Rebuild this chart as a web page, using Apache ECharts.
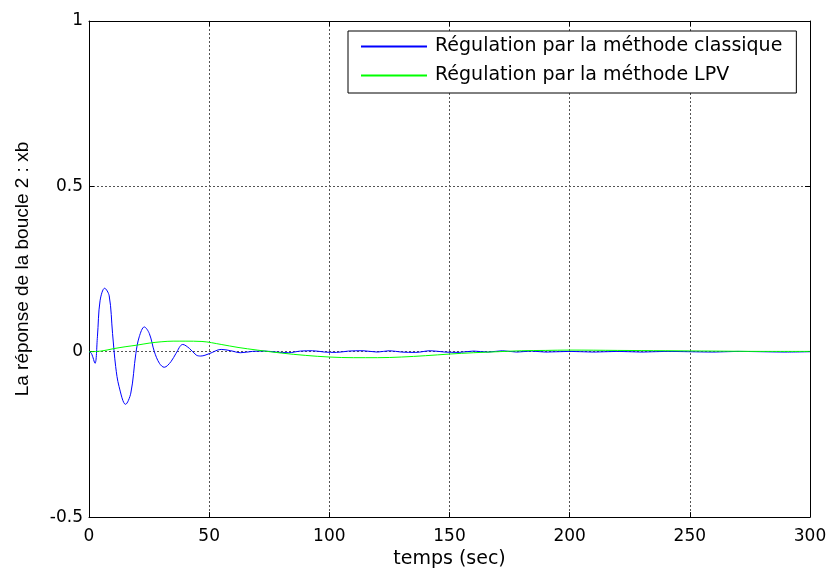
<!DOCTYPE html>
<html>
<head>
<meta charset="utf-8">
<script src="https://cdn.jsdelivr.net/npm/echarts@6/dist/echarts.min.js"></script>
<style>
  html, body { margin: 0; padding: 0; background: #fff; }
  #chart { width: 831px; height: 574px; }
</style>
</head>
<body>
<div id="chart"></div>
<script>
// temps (sec) / reponse
var blueT = [0,1,2.5,3.5,4.6,6.5,8.4,9.8,11.1,12.5,15.2,17.4,19.5,20.9,23,25.1,27.2,29.3,31.3,34.1,
  36.2,39,41.8,44.6,46.5,50,55,59,63,68,73,78,83,88,93,98,103,108,114,120,
  125,130,136,142,148,154,160,166,172,178,184,190,200,210,220,230,240,250,260,270,280,290,300];
var blueY = [0,-0.005,-0.035,0.045,0.154,0.192,0.169,0.055,-0.045,-0.105,-0.159,-0.125,-0.005,0.045,0.075,0.055,0,-0.035,-0.047,-0.03,
  -0.005,0.022,0.01,-0.01,-0.013,-0.006,0.007,0.003,-0.003,0.001,0.002,-0.001,-0.003,0.002,0.003,-0.001,-0.002,0.002,0.003,-0.001,
  0.003,-0.001,-0.002,0.003,-0.001,-0.002,0.002,-0.001,0.003,-0.001,0.002,-0.001,0.001,-0.001,0.001,-0.001,0.001,0,-0.001,0.001,0,-0.001,0];

var greenT = [0,5,10,15,20,25,30,35,40,47,55,62,70,80,90,100,110,120,130,140,150,160,170,180,190,200,220,240,260,280,300];
var greenY = [0,0.002,0.009,0.015,0.02,0.026,0.03,0.032,0.032,0.031,0.022,0.013,0.005,-0.004,-0.011,-0.016,-0.018,-0.018,-0.016,-0.012,
  -0.007,-0.003,0,0.003,0.004,0.005,0.004,0.003,0.002,0.001,0.001];

var names = ['Régulation par la méthode classique', 'Régulation par la méthode LPV'];
var colors = ['#0000ff', '#00ff00'];

function pairs(t, y) {
  var out = [];
  for (var i = 0; i < t.length; i++) out.push([t[i], y[i]]);
  return out;
}

var chart = echarts.init(document.getElementById('chart'), null, {renderer: 'canvas'});
var font = 'DejaVu Sans';
var grid = {type: [2, 2], color: '#555', width: 1};
var box = {show: true, onZero: false, lineStyle: {color: '#000', width: 1}};
var tick = {show: true, inside: true, length: 5, lineStyle: {color: '#000'}};

var option = {
  backgroundColor: '#fff',
  animation: false,
  grid: {left: 89, right: 21, top: 21, bottom: 52},
  legend: {
    orient: 'vertical',
    left: 348,
    top: 31,
    data: [
      {name: names[0], itemStyle: {color: colors[0]}},
      {name: names[1], itemStyle: {color: colors[1]}}
    ],
    icon: 'rect',
    itemWidth: 66,
    itemHeight: 2,
    itemGap: 10,
    padding: [6, 14, 8, 13],
    borderColor: '#000',
    borderWidth: 1,
    backgroundColor: '#fff',
    textStyle: {fontFamily: font, fontSize: 19, lineHeight: 18, color: '#000', padding: [0, 0, 0, 3]}
  },
  xAxis: [{
    type: 'value', min: 0, max: 300, interval: 50,
    name: 'temps (sec)', nameLocation: 'middle', nameGap: 30,
    nameTextStyle: {fontFamily: font, fontSize: 19, color: '#000'},
    axisLine: box, axisTick: tick,
    axisLabel: {fontFamily: font, fontSize: 17, color: '#000', margin: 11},
    splitLine: {show: true, lineStyle: grid}
  }, {
    type: 'value', position: 'top', min: 0, max: 300, interval: 50,
    axisLine: box, axisTick: tick, axisLabel: {show: false}, splitLine: {show: false}
  }],
  yAxis: [{
    type: 'value', min: -0.5, max: 1, interval: 0.5,
    name: 'La réponse de la boucle 2 : xb', nameLocation: 'middle', nameGap: 57,
    nameTextStyle: {fontFamily: 'Liberation Sans', fontSize: 19, color: '#000'},
    axisLine: box, axisTick: tick,
    axisLabel: {fontFamily: font, fontSize: 17, color: '#000', margin: 6},
    splitLine: {show: true, lineStyle: grid}
  }, {
    type: 'value', position: 'right', min: -0.5, max: 1, interval: 0.5,
    axisLine: box, axisTick: tick, axisLabel: {show: false}, splitLine: {show: false}
  }],
  series: [{
    name: names[0], type: 'line', data: pairs(blueT, blueY),
    symbol: 'none', smooth: 0.35,
    lineStyle: {color: colors[0], width: 1}, itemStyle: {color: colors[0]}
  }, {
    name: names[1], type: 'line', data: pairs(greenT, greenY),
    symbol: 'none', smooth: 0.35,
    lineStyle: {color: colors[1], width: 1}, itemStyle: {color: colors[1]}
  }]
};
chart.setOption(option);
</script>
</body>
</html>
